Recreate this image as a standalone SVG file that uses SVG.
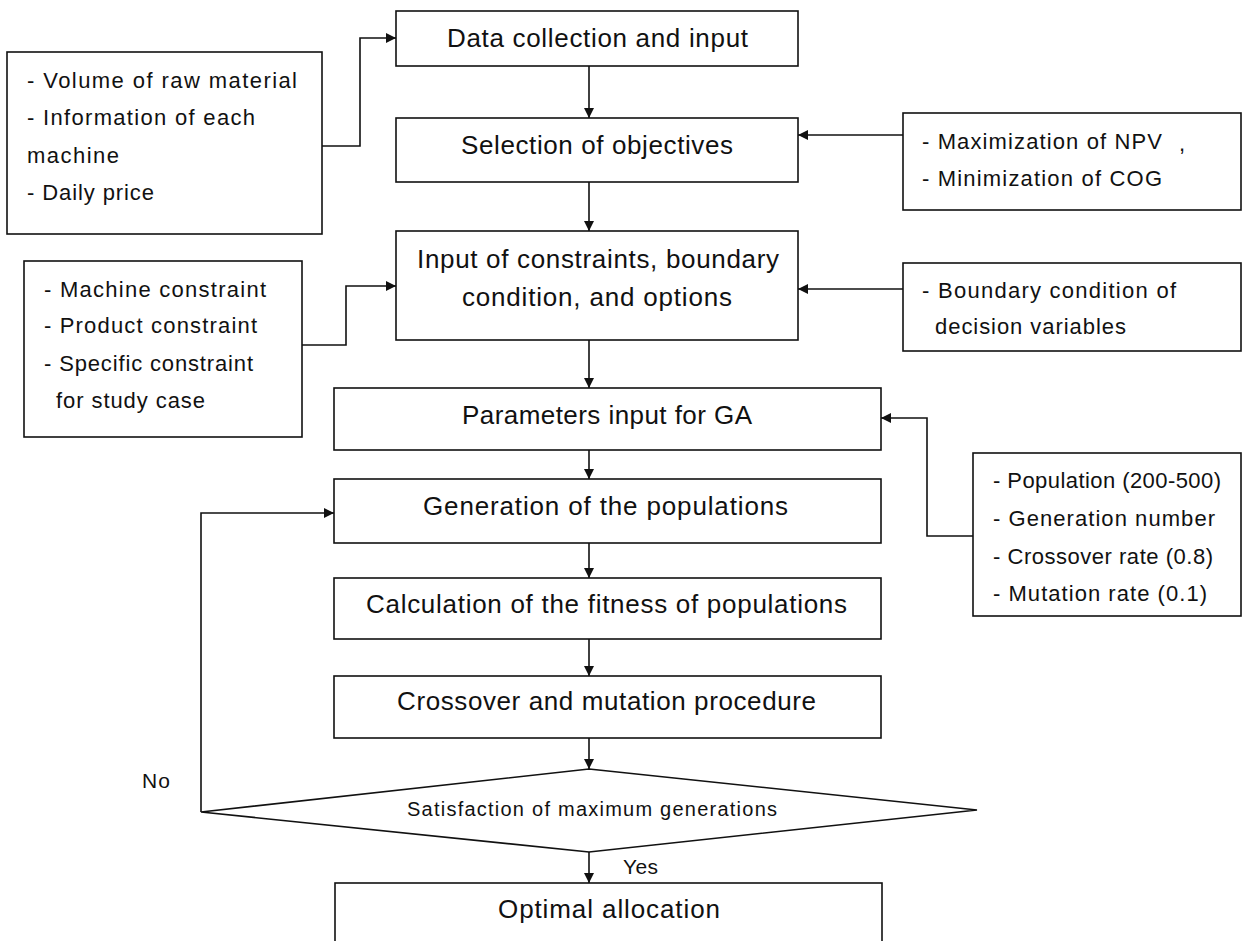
<svg xmlns="http://www.w3.org/2000/svg" width="1242" height="941" viewBox="0 0 1242 941">
<style>
.box{fill:#fff;stroke:#111;stroke-width:1.6}
.con{fill:none;stroke:#111;stroke-width:1.6}
.m{font-family:"Liberation Sans",Arial,sans-serif;font-size:26px;fill:#111}
.s{font-family:"Liberation Sans",Arial,sans-serif;font-size:22px;fill:#111}
.d{font-family:"Liberation Sans",Arial,sans-serif;font-size:20px;fill:#111}
.l{font-family:"Liberation Sans",Arial,sans-serif;font-size:21px;fill:#111}
</style>
<defs>
<marker id="ah" markerUnits="userSpaceOnUse" markerWidth="10" markerHeight="10" refX="10" refY="5" orient="auto">
<path d="M0,0 L10,5 L0,10 z" fill="#111"/>
</marker>
</defs>
<rect width="1242" height="941" fill="#fff"/>
<g id="connectors">
<path class="con" d="M589,66 V118" marker-end="url(#ah)"/>
<path class="con" d="M589,182 V231" marker-end="url(#ah)"/>
<path class="con" d="M589,340 V388" marker-end="url(#ah)"/>
<path class="con" d="M589,450 V479" marker-end="url(#ah)"/>
<path class="con" d="M589,543 V578" marker-end="url(#ah)"/>
<path class="con" d="M589,639 V676" marker-end="url(#ah)"/>
<path class="con" d="M589,738 V769" marker-end="url(#ah)"/>
<path class="con" d="M589,852 V883" marker-end="url(#ah)"/>
<path class="con" d="M322,146 H360 V38 H396" marker-end="url(#ah)"/>
<path class="con" d="M302,345 H346 V286 H396" marker-end="url(#ah)"/>
<path class="con" d="M903,135 H798" marker-end="url(#ah)"/>
<path class="con" d="M903,289 H798" marker-end="url(#ah)"/>
<path class="con" d="M973,536 H927 V418 H881" marker-end="url(#ah)"/>
<path class="con" d="M201,812 V513 H334" marker-end="url(#ah)"/>
</g>
<g id="data">
<rect class="box" x="396" y="11" width="402" height="55"/>
<text class="m" x="447" y="47" textLength="301">Data collection and input</text>
</g>
<g id="selection">
<rect class="box" x="396" y="118" width="402" height="64"/>
<text class="m" x="461" y="154" textLength="272">Selection of objectives</text>
</g>
<g id="constraints">
<rect class="box" x="396" y="231" width="402" height="109"/>
<text class="m" x="417" y="268" textLength="362">Input of constraints, boundary</text>
<text class="m" x="462" y="306" textLength="270">condition, and options</text>
</g>
<g id="params">
<rect class="box" x="334" y="388" width="547" height="62"/>
<text class="m" x="462" y="424" textLength="290">Parameters input for GA</text>
</g>
<g id="generation">
<rect class="box" x="334" y="479" width="547" height="64"/>
<text class="m" x="423" y="515" textLength="365">Generation of the populations</text>
</g>
<g id="fitness">
<rect class="box" x="334" y="578" width="547" height="61"/>
<text class="m" x="366" y="613" textLength="481">Calculation of the fitness of populations</text>
</g>
<g id="crossover">
<rect class="box" x="334" y="676" width="547" height="62"/>
<text class="m" x="397" y="710" textLength="419">Crossover and mutation procedure</text>
</g>
<g id="decision">
<polygon class="box" points="589,769 977,810 589,852 201,812"/>
<text class="d" x="407" y="816" textLength="370">Satisfaction of maximum generations</text>
</g>
<g id="optimal">
<rect class="box" x="335" y="883" width="547" height="70"/>
<text class="m" x="498" y="918" textLength="222">Optimal allocation</text>
</g>
<g id="labels">
<text class="l" x="142" y="788" textLength="28">No</text>
<text class="l" x="623" y="874" textLength="35">Yes</text>
</g>
<g id="inputs">
<rect class="box" x="7" y="52" width="315" height="182"/>
<text class="s" x="27" y="88" textLength="270">- Volume of raw material</text>
<text class="s" x="27" y="125" textLength="228">- Information of each</text>
<text class="s" x="27" y="163" textLength="92">machine</text>
<text class="s" x="27" y="200" textLength="127">- Daily price</text>
</g>
<g id="constraint-list">
<rect class="box" x="24" y="261" width="278" height="176"/>
<text class="s" x="44" y="297" textLength="222">- Machine constraint</text>
<text class="s" x="44" y="333" textLength="213">- Product constraint</text>
<text class="s" x="44" y="371" textLength="209">- Specific constraint</text>
<text class="s" x="56" y="408" textLength="149">for study  case</text>
</g>
<g id="objectives-list">
<rect class="box" x="903" y="113" width="338" height="97"/>
<text class="s" x="922" y="149" textLength="240">- Maximization of NPV</text>
<text class="s" x="1179" y="151">,</text>
<text class="s" x="922" y="186" textLength="240">- Minimization of COG</text>
</g>
<g id="boundary-list">
<rect class="box" x="903" y="263" width="338" height="88"/>
<text class="s" x="922" y="298" textLength="254">- Boundary condition of</text>
<text class="s" x="935" y="334" textLength="191">decision variables</text>
</g>
<g id="ga-list">
<rect class="box" x="973" y="453" width="268" height="163"/>
<text class="s" x="993" y="488" textLength="228">- Population (200-500)</text>
<text class="s" x="993" y="526" textLength="222">- Generation number</text>
<text class="s" x="993" y="564" textLength="220">- Crossover rate (0.8)</text>
<text class="s" x="993" y="601" textLength="214">- Mutation rate (0.1)</text>
</g>
</svg>
